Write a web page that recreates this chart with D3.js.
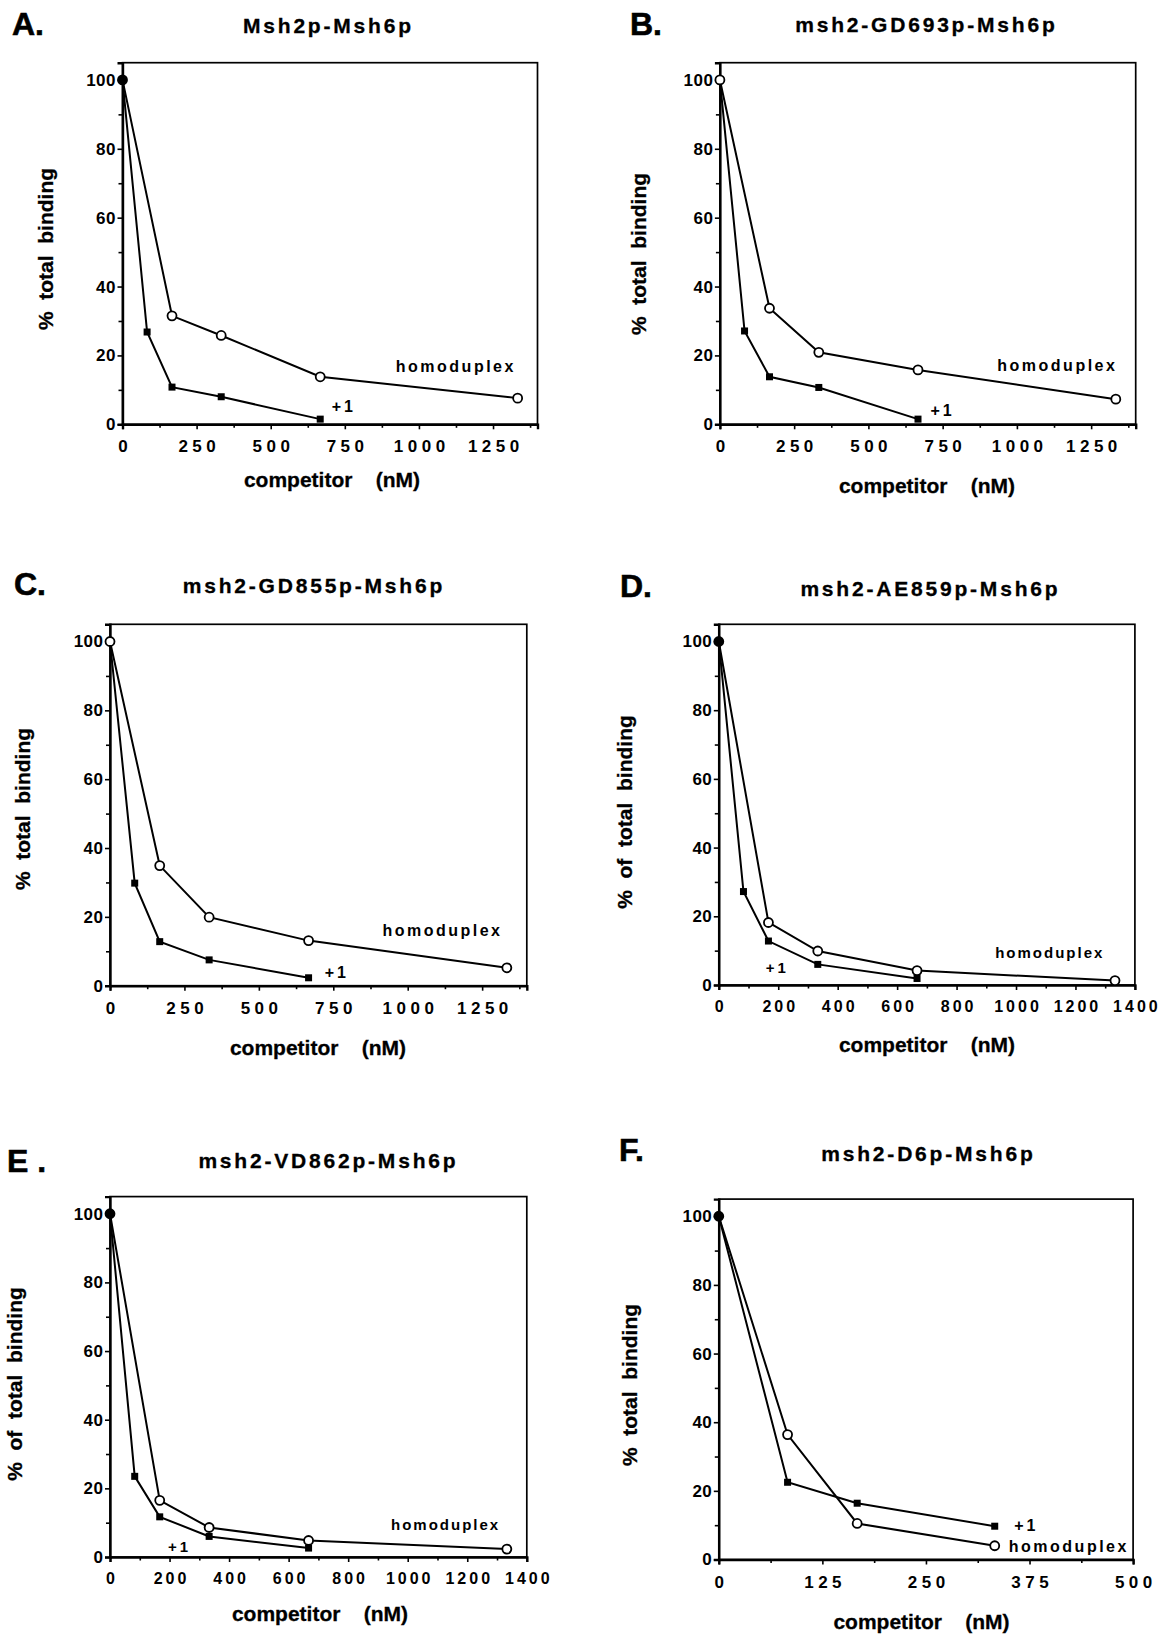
<!DOCTYPE html>
<html>
<head>
<meta charset="utf-8">
<script src="https://cdn.jsdelivr.net/npm/d3@7"></script>
<style>
  body { margin: 0; background: #fff; }
  svg text { font-family: "Liberation Sans", Arial, sans-serif; font-weight: bold; fill: #000; }
</style>
</head>
<body>
<div id="container"></div>
<script>
/* DATA - competitor concentration (nM) and % binding */
const homoX = [0, 167, 333, 667, 1333];
const plusX = [0, 83, 167, 333, 667];
const homoXF = [0, 83, 167, 333];
const plusXF = [0, 83, 167, 333];

const homoA = [100, 31.5, 25.8, 13.8, 7.6];
const plusA = [100, 26.8, 10.8, 8.0, 1.5];
const homoB = [100, 33.7, 20.9, 15.8, 7.3];
const plusB = [100, 27.1, 13.8, 10.7, 1.5];
const homoC = [100, 34.9, 19.9, 13.1, 5.2];
const plusC = [100, 29.8, 12.8, 7.5, 2.3];
const homoD = [100, 18.2, 9.9, 4.2, 1.3];
const plusD = [100, 27.2, 12.8, 6.0, 1.9];
const homoE = [100, 16.5, 8.6, 4.8, 2.3];
const plusE = [100, 23.5, 11.7, 6.0, 2.6];
const homoF = [100, 36.4, 10.5, 4.0];
const plusF = [100, 22.5, 16.4, 9.7];

const titles = ["Msh2p-Msh6p", "msh2-GD693p-Msh6p", "msh2-GD855p-Msh6p",
                "msh2-AE859p-Msh6p", "msh2-VD862p-Msh6p", "msh2-D6p-Msh6p"];
const letters = ["A.", "B.", "C.", "D.", "E .", "F."];
const yLabels = ["%  total  binding", "%  total  binding", "%  total  binding",
                 "%  of  total  binding", "%  of  total  binding", "%  total  binding"];

const yTicks = [0, 20, 40, 60, 80, 100];
const yMinor = [10, 30, 50, 70, 90];
const xTicks250 = [0, 250, 500, 750, 1000, 1250];
const xMinor250 = [125, 375, 625, 875, 1125, 1375];
const xTicks200 = [0, 200, 400, 600, 800, 1000, 1200, 1400];
const xMinor200 = [100, 300, 500, 700, 900, 1100, 1300];
const xTicks125 = [0, 125, 250, 375, 500];
const xMinor125 = [62.5, 187.5, 312.5, 437.5];

/* LAYOUT (pixel boxes of each plot frame, label anchors in data units) */
const panels = [
  { hx: homoX, hy: homoA, px: plusX, py: plusA, filled: true, xMax: 1400, xt: xTicks250, xm: xMinor250,
    box: [122.5, 62.7, 537.5, 424.3], letter: [12, 35], title: [327, 33],
    yLab: [53, 249], xLab: [332, 487], lab: [16, 2.5], tick: [17, 4.5],
    homoLab: [922, 15.3], plusLab: [706, 3.7] },
  { hx: homoX, hy: homoB, px: plusX, py: plusB, filled: false, xMax: 1400, xt: xTicks250, xm: xMinor250,
    box: [719.9, 62.7, 1135.7, 424.3], letter: [630, 35], title: [925, 32],
    yLab: [646, 254], xLab: [927, 493], lab: [16, 2.5], tick: [17, 4.5],
    homoLab: [934, 15.5], plusLab: [709, 2.4] },
  { hx: homoX, hy: homoC, px: plusX, py: plusC, filled: false, xMax: 1400, xt: xTicks250, xm: xMinor250,
    box: [110, 624.3, 526.8, 985.7], letter: [14, 595], title: [312.5, 593],
    yLab: [30, 809], xLab: [318, 1055], lab: [16, 2.5], tick: [17, 4.5],
    homoLab: [915, 14.5], plusLab: [721, 2.3] },
  { hx: homoX, hy: homoD, px: plusX, py: plusD, filled: true, xMax: 1400, xt: xTicks200, xm: xMinor200,
    box: [718.8, 624.3, 1134.9, 985], letter: [620, 597], title: [929, 596],
    yLab: [632, 812], xLab: [927, 1052], lab: [15, 2], tick: [16, 3],
    homoLab: [930, 7.8], plusLab: [158, 3.4] },
  { hx: homoX, hy: homoE, px: plusX, py: plusE, filled: true, xMax: 1400, xt: xTicks200, xm: xMinor200,
    box: [110, 1196.6, 526.8, 1557], letter: [7, 1172], title: [327, 1167.6],
    yLab: [21.5, 1384], xLab: [320, 1620.6], lab: [15, 2], tick: [16, 3],
    homoLab: [944, 7.9], plusLab: [195, 1.5] },
  { hx: homoXF, hy: homoF, px: plusXF, py: plusF, filled: true, xMax: 500, xt: xTicks125, xm: xMinor125,
    box: [718.8, 1199.1, 1133.1, 1559.5], letter: [619, 1161], title: [927, 1160.6],
    yLab: [637, 1385], xLab: [921.5, 1629], lab: [16, 2.5], tick: [17, 4.5],
    homoLab: [350, 2.3], plusLab: [356.6, 8.2] }
];

const svg = d3.select("#container")
  .append("svg")
  .attr("width", 1162)
  .attr("height", 1634);

panels.forEach((p, i) => {
  const [x0, y0, x1, y1] = p.box;
  const xScale = d3.scaleLinear().domain([0, p.xMax]).range([x0, x1]);
  const yScale = d3.scaleLinear().domain([0, 105]).range([y1, y0]);

  const g = svg.append("g");

  // frame (top/right thin)
  g.append("rect")
    .attr("x", x0).attr("y", y0)
    .attr("width", x1 - x0).attr("height", y1 - y0)
    .attr("fill", "none").attr("stroke", "#000").attr("stroke-width", 1.7);

  // y axis
  const yAx = g.append("g")
    .attr("transform", `translate(${x0},0)`)
    .call(d3.axisLeft(yScale).tickValues(yTicks).tickSize(5).tickPadding(2).tickFormat(d3.format("d")));
  g.append("g")
    .attr("transform", `translate(${x0},0)`)
    .call(d3.axisLeft(yScale).tickValues(yMinor).tickSize(4).tickFormat(""))
    .select(".domain").remove();

  // x axis
  const xAx = g.append("g")
    .attr("transform", `translate(0,${y1})`)
    .call(d3.axisBottom(xScale).tickValues(p.xt).tickSize(5).tickPadding(11).tickFormat(d3.format("d")));
  g.append("g")
    .attr("transform", `translate(0,${y1})`)
    .call(d3.axisBottom(xScale).tickValues(p.xm).tickSize(3.5).tickFormat(""))
    .select(".domain").remove();

  [yAx, xAx].forEach(ax => {
    ax.select(".domain").attr("stroke-width", 2.4);
  });
  g.selectAll(".tick line").attr("stroke-width", 1.6);

  yAx.selectAll("text")
    .attr("font-family", null)
    .attr("dx", "0.5px")
    .style("font-size", "17px")
    .style("letter-spacing", "0.5px");
  xAx.selectAll("text")
    .attr("font-family", null)
    .style("font-size", p.tick[0] + "px")
    .style("letter-spacing", p.tick[1] + "px")
    .attr("dx", (p.tick[1] / 2) + "px");

  const line = d3.line()
    .x(d => xScale(d[0]))
    .y(d => yScale(d[1]));

  const homoPts = p.hx.map((x, k) => [x, p.hy[k]]);
  const plusPts = p.px.map((x, k) => [x, p.py[k]]);

  g.append("path")
    .datum(plusPts)
    .attr("d", line)
    .attr("fill", "none").attr("stroke", "#000").attr("stroke-width", 2);
  g.append("path")
    .datum(homoPts)
    .attr("d", line)
    .attr("fill", "none").attr("stroke", "#000").attr("stroke-width", 2);

  g.selectAll(".sq")
    .data(plusPts.slice(1))
    .join("rect")
    .attr("class", "sq")
    .attr("x", d => xScale(d[0]) - 3.5)
    .attr("y", d => yScale(d[1]) - 3.5)
    .attr("width", 7).attr("height", 7)
    .attr("fill", "#000");

  g.selectAll(".ci")
    .data(homoPts)
    .join("circle")
    .attr("class", "ci")
    .attr("cx", d => xScale(d[0]))
    .attr("cy", d => yScale(d[1]))
    .attr("r", 4.5)
    .attr("fill", (d, k) => (k === 0 && p.filled) ? "#000" : "#fff")
    .attr("stroke", "#000").attr("stroke-width", 1.8);

  // text
  g.append("text")
    .attr("x", p.letter[0]).attr("y", p.letter[1])
    .style("font-size", "32px")
    .style("stroke", "#000").style("stroke-width", 0.6)
    .text(letters[i]);

  g.append("text")
    .attr("x", p.title[0]).attr("y", p.title[1])
    .attr("text-anchor", "middle")
    .attr("dx", "1.4px")
    .style("font-size", "21px")
    .style("letter-spacing", "2.8px")
    .style("stroke", "#000").style("stroke-width", 0.3)
    .text(titles[i]);

  g.append("text")
    .attr("transform", `translate(${p.yLab[0]},${p.yLab[1]}) rotate(-90)`)
    .attr("text-anchor", "middle")
    .style("font-size", "21px")
    .style("white-space", "pre")
    .style("stroke", "#000").style("stroke-width", 0.3)
    .text(yLabels[i]);

  g.append("text")
    .attr("x", p.xLab[0]).attr("y", p.xLab[1])
    .attr("text-anchor", "middle")
    .style("font-size", "21px")
    .style("white-space", "pre")
    .style("stroke", "#000").style("stroke-width", 0.3)
    .text("competitor    (nM)");

  g.append("text")
    .attr("x", xScale(p.homoLab[0])).attr("y", yScale(p.homoLab[1]))
    .style("font-size", p.lab[0] + "px")
    .style("letter-spacing", p.lab[1] + "px")
    .text("homoduplex");

  g.append("text")
    .attr("x", xScale(p.plusLab[0])).attr("y", yScale(p.plusLab[1]))
    .style("font-size", p.lab[0] + "px")
    .style("letter-spacing", "3px")
    .text("+1");
});
</script>
</body>
</html>
